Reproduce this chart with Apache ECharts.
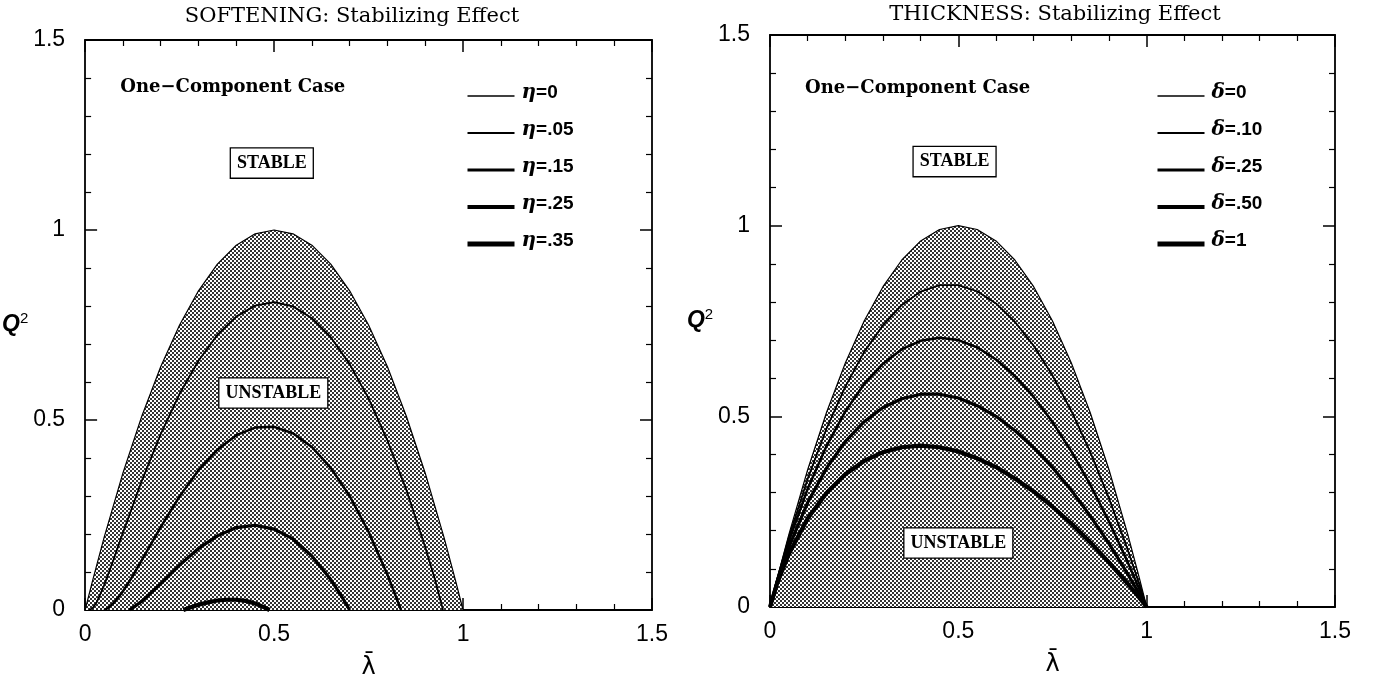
<!DOCTYPE html>
<html>
<head>
<meta charset="utf-8">
<script src="https://cdn.jsdelivr.net/npm/echarts@6/dist/echarts.min.js"></script>
<style>html,body{margin:0;background:#fff}#main{width:1373px;height:689px}</style>
</head>
<body>
<div id="main"></div>
<script>
// values (lambda-bar on x, Q^2 on y)
var tickLabels = ['0', '0.5', '1', '1.5'];

// SOFTENING panel
var etaNames = ['η=0', 'η=.05', 'η=.15', 'η=.25', 'η=.35'];
var eta0X = [0, .02, .05, .1, .15, .2, .25, .3, .35, .4, .45, .5, .55, .6, .65, .7, .75, .8, .85, .9, .95, .98, 1];
var eta0Y = [0, .078, .19, .36, .51, .64, .75, .84, .91, .96, .99, 1, .99, .96, .91, .84, .75, .64, .51, .36, .19, .078, 0];
var eta05X = [.011, .02, .03, .05, .075, .1, .15, .2, .25, .3, .35, .4, .45, .5, .55, .6, .65, .7, .75, .8, .85, .9, .925, .947];
var eta05Y = [0, .005, .019, .064, .132, .203, .34, .463, .569, .656, .724, .772, .801, .81, .799, .768, .718, .647, .557, .446, .316, .165, .083, 0];
var eta15X = [.05, .06, .075, .1, .125, .15, .2, .25, .3, .35, .4, .45, .5, .55, .6, .65, .7, .75, .8, .836];
var eta15Y = [0, .005, .018, .049, .088, .131, .218, .299, .368, .422, .46, .48, .482, .465, .429, .374, .3, .206, .093, 0];
var eta25X = [.117, .125, .15, .2, .25, .3, .35, .4, .45, .5, .55, .6, .65, .675, .7];
var eta25Y = [0, .005, .023, .069, .118, .162, .195, .217, .223, .213, .187, .142, .08, .042, 0];
var eta35X = [.26, .28, .3, .325, .35, .375, .4, .425, .45, .47, .488];
var eta35Y = [0, .007, .014, .02, .025, .027, .027, .024, .017, .009, 0];

// THICKNESS panel
var deltaNames = ['δ=0', 'δ=.10', 'δ=.25', 'δ=.50', 'δ=1'];
var deltaX = [0, .02, .05, .1, .15, .2, .25, .3, .35, .4, .45, .5, .55, .6, .65, .7, .75, .8, .85, .9, .95, .98, 1];
var delta0Y = [0, .078, .19, .36, .51, .64, .75, .84, .91, .96, .99, 1, .99, .96, .91, .84, .75, .64, .51, .36, .19, .078, 0];
var delta10Y = [0, .076, .182, .336, .468, .578, .669, .739, .792, .827, .844, .844, .828, .796, .748, .685, .607, .514, .407, .285, .149, .061, 0];
var delta25Y = [0, .074, .172, .31, .422, .513, .585, .638, .676, .698, .706, .7, .681, .649, .606, .551, .485, .408, .321, .224, .117, .048, 0];
var delta50Y = [0, .07, .157, .274, .364, .434, .486, .523, .546, .558, .558, .548, .528, .5, .463, .418, .366, .306, .239, .166, .086, .035, 0];
var delta100Y = [0, .065, .139, .232, .299, .348, .383, .406, .419, .423, .419, .408, .39, .367, .337, .303, .263, .219, .17, .117, .061, .025, 0];

var lineWidths = [1.2, 1.8, 2.5, 3.2, 4.2];
var legendWidths = [1.6, 2.2, 3, 3.8, 5];

// halftone used for the unstable region
var pat = document.createElement('canvas');
pat.width = 4; pat.height = 4;
var pc = pat.getContext('2d');
pc.fillStyle = '#fff'; pc.fillRect(0, 0, 4, 4);
pc.fillStyle = '#333'; pc.fillRect(0, 0, 2, 2); pc.fillRect(2, 2, 2, 2);

function zip(xs, ys) {
    return xs.map(function (x, i) { return [x, ys[i]]; });
}

function curve(name, xs, ys, idx, panel) {
    var s = {
        name: name,
        type: 'line',
        xAxisIndex: panel * 2,
        yAxisIndex: panel * 2,
        data: zip(xs, ys),
        symbol: 'none',
        color: '#000',
        lineStyle: { color: '#000', width: lineWidths[idx] },
        z: 3 + idx
    };
    if (idx === 0) {
        s.areaStyle = { color: { image: pat, repeat: 'repeat' }, opacity: 1 };
    }
    return s;
}

var font = 'Liberation Sans';

function xAx(grid, pos, withLabel) {
    return {
        type: 'value', gridIndex: grid, position: pos, min: 0, max: 1.5, interval: 0.5,
        axisLine: { show: true, onZero: false, lineStyle: { color: '#000', width: 1.8 } },
        axisTick: { show: true, inside: true, length: 12, lineStyle: { color: '#000', width: 1.5 } },
        minorTick: { show: true, splitNumber: 5, length: 6, lineStyle: { color: '#000', width: 1.2 } },
        splitLine: { show: false },
        axisLabel: {
            show: withLabel, color: '#000', fontSize: 23, fontFamily: font, margin: 13,
            formatter: function (v) { return tickLabels[Math.round(v / 0.5)]; }
        },
        name: withLabel ? 'λ̄' : '',
        nameLocation: 'middle', nameGap: 46,
        nameTextStyle: { color: '#000', fontSize: 24, fontFamily: 'DejaVu Sans' }
    };
}

function yAx(grid, pos, withLabel) {
    return {
        type: 'value', gridIndex: grid, position: pos, min: 0, max: 1.5, interval: 0.5,
        axisLine: { show: true, onZero: false, lineStyle: { color: '#000', width: 1.8 } },
        axisTick: { show: true, inside: true, length: 12, lineStyle: { color: '#000', width: 1.5 } },
        minorTick: { show: true, splitNumber: 5, length: 6, lineStyle: { color: '#000', width: 1.2 } },
        splitLine: { show: false },
        axisLabel: {
            show: withLabel, color: '#000', fontSize: 23, fontFamily: font, margin: 20,
            formatter: function (v) { return tickLabels[Math.round(v / 0.5)]; }
        },
        name: withLabel ? '{q|Q}{s|2}' : '',
        nameLocation: 'middle', nameGap: 40, nameRotate: 0,
        nameTextStyle: {
            rich: {
                q: { fontSize: 23, fontStyle: 'italic', fontWeight: 'bold', fontFamily: font, color: '#000' },
                s: { fontSize: 15, fontFamily: font, color: '#000', verticalAlign: 'top', padding: [0, 0, 12, 0] }
            }
        }
    };
}

function legendFor(names, left) {
    return {
        orient: 'vertical', left: left, top: 78,
        itemWidth: 47, itemHeight: 14, itemGap: 17,
        selectedMode: false,
        data: names.map(function (n, i) {
            return {
                name: n,
                itemStyle: { opacity: 0 },
                lineStyle: { width: legendWidths[i], color: '#000', opacity: 1 }
            };
        }),
        formatter: function (n) { return '{g|' + n.charAt(0) + '}' + n.slice(1); },
        textStyle: {
            color: '#000', fontSize: 19, fontWeight: 'bold', fontFamily: font, padding: [0, 0, 6, 2],
            rich: { g: { fontSize: 20, fontStyle: 'italic', fontWeight: 'bold', fontFamily: 'DejaVu Serif', color: '#000' } }
        }
    };
}

var boxLabel = {
    show: true, position: 'inside', color: '#000', fontSize: 18, fontWeight: 'bold',
    fontFamily: 'Liberation Serif', backgroundColor: '#fff', borderColor: '#000',
    borderWidth: 1.3, padding: [6, 6, 5, 6]
};
var caseLabel = {
    show: true, position: 'right', distance: 0, color: '#000', fontSize: 18,
    fontWeight: 'bold', fontFamily: 'DejaVu Serif'
};

function notes(panel, casePos, stablePos, unstablePos) {
    return {
        type: 'scatter', xAxisIndex: panel * 2, yAxisIndex: panel * 2,
        symbolSize: 0, z: 10, silent: true,
        itemStyle: { opacity: 1 },
        data: [
            { value: casePos, label: Object.assign({ formatter: 'One−Component Case' }, caseLabel) },
            { value: stablePos, label: Object.assign({ formatter: 'STABLE' }, boxLabel) },
            { value: unstablePos, label: Object.assign({ formatter: 'UNSTABLE' }, boxLabel) }
        ]
    };
}

var chart = echarts.init(document.getElementById('main'));
var option = {
    animation: false,
    backgroundColor: '#fff',
    grid: [
        { left: 85, top: 40, width: 567, height: 570 },
        { left: 770, top: 35, width: 565, height: 572 }
    ],
    xAxis: [xAx(0, 'bottom', true), xAx(0, 'top', false), xAx(1, 'bottom', true), xAx(1, 'top', false)],
    yAxis: [yAx(0, 'left', true), yAx(0, 'right', false), yAx(1, 'left', true), yAx(1, 'right', false)],
    legend: [legendFor(etaNames, 460), legendFor(deltaNames, 1150)],
    graphic: [
        { type: 'text', x: 352, y: 17, style: { text: 'SOFTENING: Stabilizing Effect', fontSize: 21, fontFamily: 'DejaVu Serif', fill: '#000', align: 'center', verticalAlign: 'middle' } },
        { type: 'text', x: 1055, y: 15, style: { text: 'THICKNESS: Stabilizing Effect', fontSize: 21, fontFamily: 'DejaVu Serif', fill: '#000', align: 'center', verticalAlign: 'middle' } }
    ],
    series: [
        curve(etaNames[0], eta0X, eta0Y, 0, 0),
        curve(etaNames[1], eta05X, eta05Y, 1, 0),
        curve(etaNames[2], eta15X, eta15Y, 2, 0),
        curve(etaNames[3], eta25X, eta25Y, 3, 0),
        curve(etaNames[4], eta35X, eta35Y, 4, 0),
        curve(deltaNames[0], deltaX, delta0Y, 0, 1),
        curve(deltaNames[1], deltaX, delta10Y, 1, 1),
        curve(deltaNames[2], deltaX, delta25Y, 2, 1),
        curve(deltaNames[3], deltaX, delta50Y, 3, 1),
        curve(deltaNames[4], deltaX, delta100Y, 4, 1),
        notes(0, [0.093, 1.375], [0.494, 1.176], [0.498, 0.571]),
        notes(1, [0.093, 1.36], [0.49, 1.168], [0.5, 0.168])
    ]
};
option && chart.setOption(option);
</script>
</body>
</html>
